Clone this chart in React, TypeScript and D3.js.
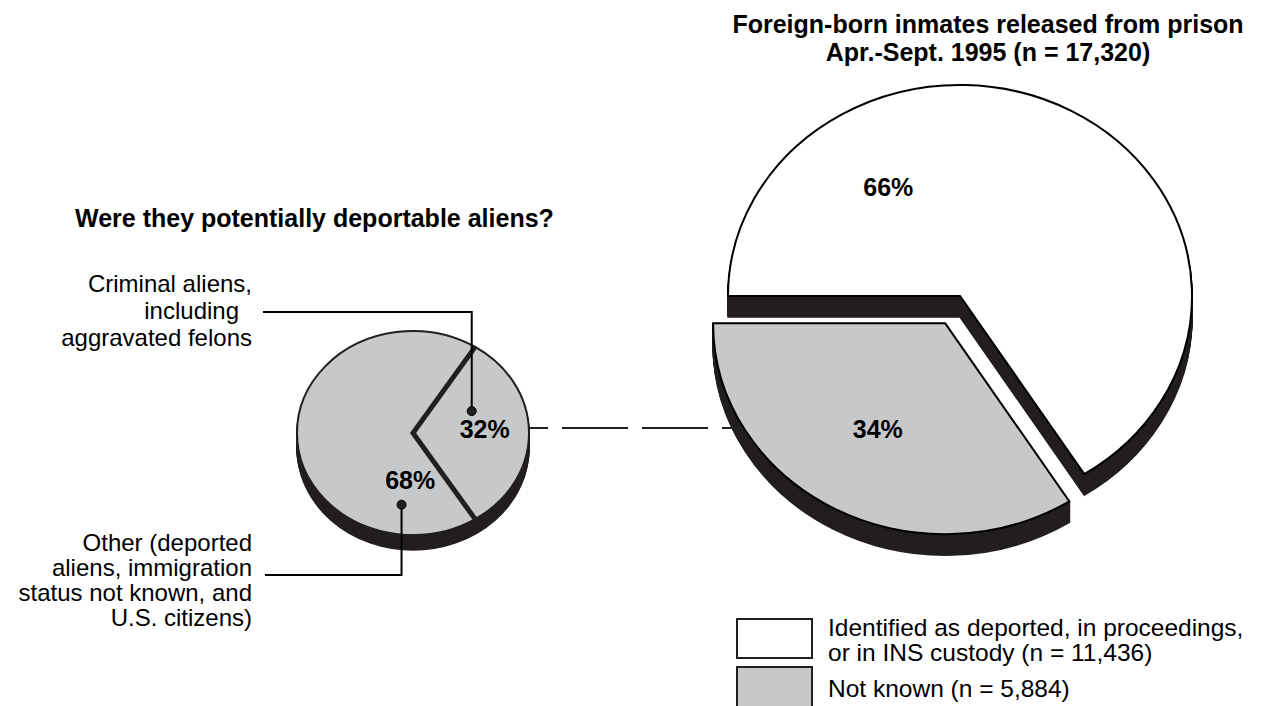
import React from "react";
import * as d3 from "d3";

// ---- data ----
const titleLines = ["Foreign-born inmates released from prison", "Apr.-Sept. 1995 (n = 17,320)"];
const subTitle = "Were they potentially deportable aliens?";

const bigCategories = ["Identified as deported, in proceedings, or in INS custody", "Not known"];
const bigCounts = [11436, 5884];
const bigValues = [66, 34];
const bigLabels = ["66%", "34%"];
const legendLines = [
  ["Identified as deported, in proceedings,", "or in INS custody (n = 11,436)"],
  ["Not known (n = 5,884)"],
];

const smallCategories = ["Criminal aliens, including aggravated felons", "Other"];
const smallValues = [32, 68];
const smallLabels = ["32%", "68%"];
const smallNoteLines = [
  ["Criminal aliens,", "including", "aggravated felons"],
  ["Other (deported", "aliens, immigration", "status not known, and", "U.S. citizens)"],
];

// ---- style / layout ----
const W = 1262;
const H = 706;
const DARK = "#231f20";
const GRAY = "#c7c8ca";
const FONT = "'Liberation Sans', Arial, Helvetica, sans-serif";
const FS = 25;
const FS_NOTE = 24;

const big = { cx: 960, cy: 296, rx: 232, ry: 211, depth: 21 };
const small = { cx: 413, cy: 433, rx: 116, ry: 102, depth: 15 };
const EXPLODE_PX = 31;

type Ell = { cx: number; cy: number; rx: number; ry: number; depth: number };

function pt(e: Ell, a: number, f = 1): [number, number] {
  return [e.cx + e.rx * f * Math.sin(a), e.cy - e.ry * f * Math.cos(a)];
}
function slicePath(e: Ell, a0: number, a1: number) {
  const p0 = pt(e, a0);
  const p1 = pt(e, a1);
  const large = a1 - a0 > Math.PI ? 1 : 0;
  return `M${e.cx},${e.cy}L${p0[0]},${p0[1]}A${e.rx},${e.ry} 0 ${large} 1 ${p1[0]},${p1[1]}Z`;
}
const deg = (d: number) => (d * Math.PI) / 180;

export default function App() {
  // big pie: starts at 9 o'clock, clockwise
  const bigPie = d3
    .pie<number>()
    .sort(null)
    .startAngle(deg(270))
    .endAngle(deg(270 + 360))(bigValues);

  // small pie: 32% slice centred on 3 o'clock
  const smallStart = deg(90) - (Math.PI * smallValues[0]) / 100;
  const smallPie = d3
    .pie<number>()
    .sort(null)
    .startAngle(smallStart)
    .endAngle(smallStart + 2 * Math.PI)(smallValues);

  const grayArc = bigPie[1];
  const mid = (grayArc.startAngle + grayArc.endAngle) / 2;
  const grayE: Ell = {
    ...big,
    cx: big.cx + EXPLODE_PX * Math.sin(mid),
    cy: big.cy - EXPLODE_PX * Math.cos(mid),
  };
  const bigEll = [big, grayE];
  const bigFills = ["#ffffff", GRAY];

  // label placements (polar: angle deg, radius fraction)
  const bigLabelPos = [pt(big, deg(329), 0.6), pt(grayE, deg(210), 0.58)];
  const smallLabelPos = [pt(small, deg(86), 0.62), pt(small, deg(183), 0.46)];
  const smallDots = [pt(small, deg(67), 0.55), pt(small, deg(188), 0.71)];

  const depthSteps = (d: number) => d3.range(d, 0, -1);

  const noteX = 252;
  const topNoteY = [292, 319, 346];
  const botNoteY = [551, 576, 601, 626];
  const connector1 = d3.line()([
    [263, 312],
    [smallDots[0][0], 312],
    [smallDots[0][0], smallDots[0][1]],
  ]);
  const connector2 = d3.line()([
    [265, 575],
    [smallDots[1][0], 575],
    [smallDots[1][0], smallDots[1][1]],
  ]);

  const dashY = 428;

  return (
    <svg
      width={W}
      height={H}
      viewBox={`0 0 ${W} ${H}`}
      style={{ position: "absolute", left: 0, top: 0, background: "#fff" }}
      fontFamily={FONT}
    >
      <rect width={W} height={H} fill="#fff" />

      {/* titles */}
      <text x={988} y={33} textAnchor="middle" fontWeight="bold" fontSize={FS} fill="#000">
        {titleLines[0]}
      </text>
      <text x={988} y={61} textAnchor="middle" fontWeight="bold" fontSize={FS} fill="#000">
        {titleLines[1]}
      </text>
      <text x={75} y={227} fontWeight="bold" fontSize={FS} fill="#000">
        {subTitle}
      </text>

      {/* dashed link */}
      <line
        x1={small.cx + small.rx}
        x2={grayE.cx - grayE.rx + 20}
        y1={dashY}
        y2={dashY}
        stroke={DARK}
        strokeWidth={2}
        strokeDasharray="66 14"
        strokeDashoffset={47}
      />

      {/* small pie */}
      <g>
        {depthSteps(small.depth).map((k) => (
          <ellipse
            key={k}
            cx={small.cx}
            cy={small.cy + k}
            rx={small.rx}
            ry={small.ry}
            fill={DARK}
            stroke={DARK}
            strokeWidth={1.5}
          />
        ))}
        {smallPie.map((s, i) => (
          <path
            key={i}
            d={slicePath(small, s.startAngle, s.endAngle)}
            fill={GRAY}
            stroke={DARK}
            strokeWidth={2}
          />
        ))}
        <path
          d={
            d3.line()([
              pt(small, smallPie[0].startAngle),
              [small.cx, small.cy],
              pt(small, smallPie[0].endAngle),
            ]) as string
          }
          fill="none"
          stroke={DARK}
          strokeWidth={5}
          strokeLinejoin="miter"
        />
        {smallLabels.map((t, i) => (
          <text
            key={i}
            x={smallLabelPos[i][0]}
            y={smallLabelPos[i][1]}
            dy="0.36em"
            textAnchor="middle"
            fontWeight="bold"
            fontSize={FS}
            fill="#000"
          >
            {t}
          </text>
        ))}
      </g>

      {/* connectors */}
      <path d={connector1 as string} fill="none" stroke="#000" strokeWidth={2} />
      <path d={connector2 as string} fill="none" stroke="#000" strokeWidth={2} />
      {smallDots.map((d, i) => (
        <circle key={i} cx={d[0]} cy={d[1]} r={4.5} fill={DARK} stroke="#000" strokeWidth={1} />
      ))}

      {/* notes */}
      <g fontSize={FS_NOTE} fill="#000" textAnchor="end">
        <text x={noteX} y={topNoteY[0]}>{smallNoteLines[0][0]}</text>
        <text x={noteX - 13} y={topNoteY[1]}>{smallNoteLines[0][1]}</text>
        <text x={noteX} y={topNoteY[2]}>{smallNoteLines[0][2]}</text>
        {smallNoteLines[1].map((t, i) => (
          <text key={i} x={noteX} y={botNoteY[i]}>
            {t}
          </text>
        ))}
      </g>

      {/* big pie */}
      {bigPie.map((s, i) => {
        const e = bigEll[i];
        const d = slicePath(e, s.startAngle, s.endAngle);
        return (
          <g key={i}>
            {depthSteps(e.depth).map((k) => (
              <path
                key={k}
                d={d}
                transform={`translate(0,${k})`}
                fill={DARK}
                stroke={DARK}
                strokeWidth={1.5}
              />
            ))}
            <path d={d} fill={bigFills[i]} stroke="#000" strokeWidth={2} strokeLinejoin="miter" />
          </g>
        );
      })}
      {bigLabels.map((t, i) => (
        <text
          key={i}
          x={bigLabelPos[i][0]}
          y={bigLabelPos[i][1]}
          dy="0.36em"
          textAnchor="middle"
          fontWeight="bold"
          fontSize={FS}
          fill="#000"
        >
          {t}
        </text>
      ))}

      {/* legend */}
      {legendLines.map((lines, i) => (
        <g key={i}>
          <rect
            x={737}
            y={i === 0 ? 619 : 667}
            width={75}
            height={i === 0 ? 39 : 42}
            fill={bigFills[i]}
            stroke={DARK}
            strokeWidth={2}
          />
          {lines.map((t, j) => (
            <text key={j} x={828} y={(i === 0 ? 636 : 697) + j * 25} fontSize={FS_NOTE + 0.5} fill="#000">
              {t}
            </text>
          ))}
        </g>
      ))}
    </svg>
  );
}
